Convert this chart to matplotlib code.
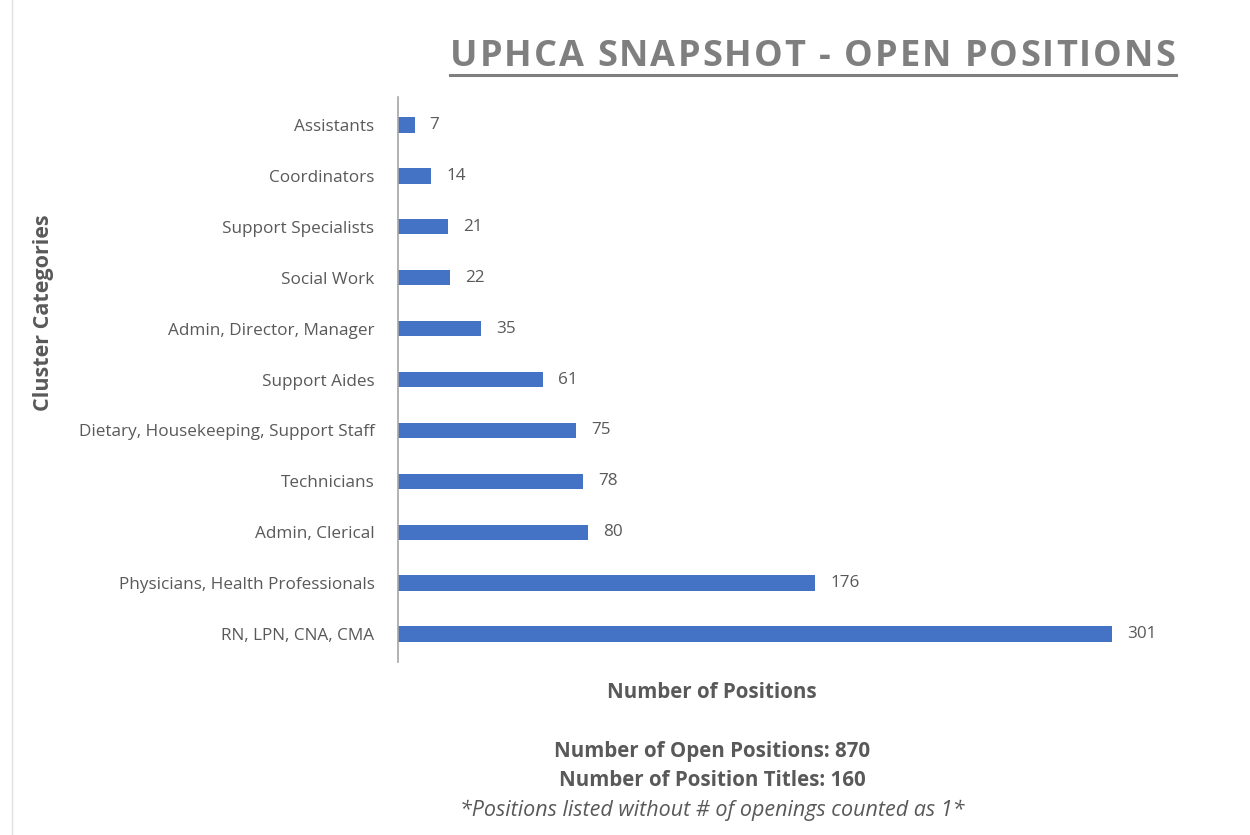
import matplotlib.pyplot as plt
from matplotlib.lines import Line2D

categories = ["RN, LPN, CNA, CMA", "Physicians, Health Professionals", "Admin, Clerical",
              "Technicians", "Dietary, Housekeeping, Support Staff", "Support Aides",
              "Admin, Director, Manager", "Social Work", "Support Specialists",
              "Coordinators", "Assistants"]
values = [301, 176, 80, 78, 75, 61, 35, 22, 21, 14, 7]

title = "UPHCA SNAPSHOT - OPEN POSITIONS"
xlabel = "Number of Positions"
ylabel = "Cluster Categories"
notes = ["Number of Open Positions: 870", "Number of Position Titles: 160"]
footnote = "*Positions listed without # of openings counted as 1*"

plt.rcParams['font.family'] = ['Open Sans', 'DejaVu Sans']
grey = "#595959"
W, H = 1250, 835
fig = plt.figure(figsize=(12.5, 8.35), dpi=100)
fig.patch.set_facecolor('white')

left, right, top, bottom = 398, 1157, 97, 662
ax = fig.add_axes([left / W, 1 - bottom / H, (right - left) / W, (bottom - top) / H])
y = list(range(len(categories)))
bars = ax.barh(y, values, height=0.3, color="#4472C4")
ax.set_xlim(0, 320)
ax.set_ylim(-0.55, len(categories) - 0.45)
ax.set_yticks(y)
ax.set_yticklabels(categories, fontsize=12.3, color=grey)
ax.tick_params(axis='y', length=0, pad=17)
ax.set_xticks([])
for s in ['top', 'right', 'bottom']:
    ax.spines[s].set_visible(False)
ax.spines['left'].set_color('#a6a6a6')
ax.spines['left'].set_linewidth(1.2)
for b, v in zip(bars, values):
    ax.text(v + 6.3, b.get_y() + b.get_height() / 2, str(v), va='center', ha='left',
            fontsize=12.3, color=grey)

# title with letter spacing
renderer = fig.canvas.get_renderer()
tx0, tx1, ty = 450, 1175, 57
TFS = 26
chars = []
for ch in title:
    t = fig.text(0, 1 - ty / H, ch, ha='left', va='center', fontsize=TFS,
                 fontweight='bold', color='#7f7f7f')
    w = t.get_window_extent(renderer).width if ch != ' ' else None
    chars.append((t, ch, w))
a1 = fig.text(0, 0, "a a", fontsize=TFS, fontweight='bold')
a2 = fig.text(0, 0, "aa", fontsize=TFS, fontweight='bold')
space_w = a1.get_window_extent(renderer).width - a2.get_window_extent(renderer).width
a1.remove()
a2.remove()
widths = [(w if w is not None else space_w) for _, _, w in chars]
gap = ((tx1 - tx0) - sum(widths)) / (len(chars) - 1)
xpos = tx0
for (t, ch, _), w in zip(chars, widths):
    t.set_x(xpos / W)
    xpos += w + gap
fig.add_artist(Line2D([450 / W, 1176 / W], [1 - 75 / H, 1 - 75 / H], color='#7f7f7f', lw=2.2))

fig.text(44 / W, 1 - 313 / H, ylabel, rotation=90, ha='center', va='center', fontsize=15.5,
         fontweight='bold', color=grey)
fig.text(712 / W, 1 - 692 / H, xlabel, ha='center', va='center', fontsize=14.8,
         fontweight='bold', color=grey)
fig.text(712 / W, 1 - 752 / H, notes[0], ha='center', va='center', fontsize=14.8,
         fontweight='bold', color=grey)
fig.text(712 / W, 1 - 781 / H, notes[1], ha='center', va='center', fontsize=14.8,
         fontweight='bold', color=grey)
fig.text(712 / W, 1 - 810 / H, footnote, ha='center', va='center', fontsize=15.5,
         style='italic', color=grey)

fig.add_artist(Line2D([12 / W, 12 / W], [0, 1], color='#e0e0e0', lw=1))

fig.savefig("out.png", dpi=100, facecolor='white')
